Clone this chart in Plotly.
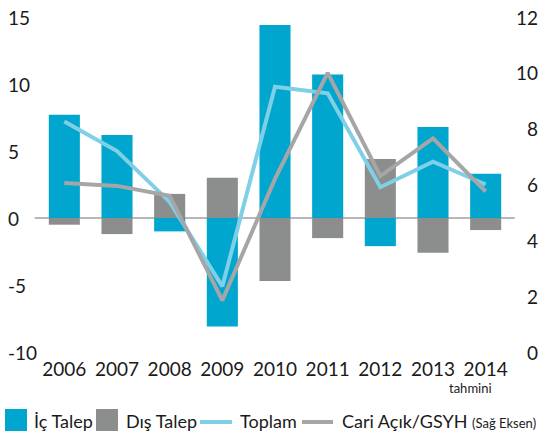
import plotly.graph_objects as go

years = ["2006", "2007", "2008", "2009", "2010", "2011", "2012", "2013", "2014"]
note_2014 = "tahmini"
ic_talep = [7.7, 6.2, -1.0, -8.1, 14.4, 10.7, -2.1, 6.8, 3.3]
dis_talep = [-0.5, -1.2, 1.8, 3.0, -4.7, -1.5, 4.4, -2.6, -0.9]
toplam = [7.2, 5.0, 1.2, -5.1, 9.8, 9.3, 2.3, 4.2, 2.5]
cari_acik = [6.05, 5.95, 5.6, 1.85, 6.2, 10.0, 6.3, 7.65, 5.75]

left_ticks = [-10, -5, 0, 5, 10, 15]
left_ticktext = ["-10", "-5", "0", "5", "10", "15"]
right_ticks = [0, 2, 4, 6, 8, 10, 12]
right_ticktext = ["0", "2", "4", "6", "8", "10", "12"]

series_names = ["İç Talep", "Dış Talep", "Toplam", "Cari Açık/GSYH"]
right_axis_note = "(Sağ Eksen)"
colors = ["#00A6CE", "#8C8E8D", "#7FD0E6", "#A6A6A8"]

FONT = "Lato, Open Sans, sans-serif"
TXT = "#1a1a1a"

fig = go.Figure()
fig.add_trace(go.Bar(x=years, y=ic_talep, name=series_names[0], marker_color=colors[0],
                     marker_line_width=0))
fig.add_trace(go.Bar(x=years, y=dis_talep, name=series_names[1], marker_color=colors[1],
                     marker_line_width=0))
fig.add_trace(go.Scatter(x=years, y=toplam, name=series_names[2], mode="lines",
                         line=dict(color=colors[2], width=4, shape="linear")))
fig.add_trace(go.Scatter(x=years, y=cari_acik, name=series_names[3],
                         mode="lines", yaxis="y2",
                         line=dict(color=colors[3], width=4)))

PLOT_L, PLOT_R, PLOT_T, PLOT_B = 38, 512, 17, 352

shapes = []
# zero line
shapes.append(dict(type="line", xref="paper", yref="y", x0=-0.007, x1=1.006, y0=0, y1=0,
                   line=dict(color="#A0A0A0", width=1.5), layer="below"))

annotations = []
for v, t in zip(left_ticks, left_ticktext):
    annotations.append(dict(xref="paper", yref="y", x=0, y=v, text=t, showarrow=False,
                            xanchor="left", yanchor="middle", xshift=-32,
                            font=dict(size=19, color=TXT)))
for v, t in zip(right_ticks, right_ticktext):
    annotations.append(dict(xref="paper", yref="y2", x=1, y=v, text=t, showarrow=False,
                            xanchor="right", yanchor="middle", xshift=28,
                            font=dict(size=19, color=TXT)))
annotations.append(dict(xref="x", yref="paper", x=len(years) - 1, y=-0.107, text=note_2014,
                        showarrow=False, xanchor="center", yanchor="middle", xshift=-15,
                        font=dict(size=13, color=TXT)))

# manual legend, pixel-sized relative to plot-area corner (paper 0,0)
def sq(x0, x1, y0, y1, color):
    return dict(type="rect", xref="paper", yref="paper", xsizemode="pixel", ysizemode="pixel",
                xanchor=0, yanchor=0, x0=x0 - PLOT_L, x1=x1 - PLOT_L,
                y0=PLOT_B - y1, y1=PLOT_B - y0, fillcolor=color,
                line=dict(width=0), layer="above")

def ln(x0, x1, y, color):
    return dict(type="line", xref="paper", yref="paper", xsizemode="pixel", ysizemode="pixel",
                xanchor=0, yanchor=0, x0=x0 - PLOT_L, x1=x1 - PLOT_L,
                y0=PLOT_B - y, y1=PLOT_B - y, line=dict(color=color, width=4), layer="above")

shapes.append(sq(5, 27, 409, 431, colors[0]))
shapes.append(sq(96, 118, 409, 431, colors[1]))
shapes.append(ln(200, 232, 422, colors[2]))
shapes.append(ln(302, 333, 422, colors[3]))

def px_x(p):
    return (p - PLOT_L) / float(PLOT_R - PLOT_L)

def px_y(p):
    return (PLOT_B - p) / float(PLOT_B - PLOT_T)

legend_text_x = [32, 124, 238, 340]
for i, (name, xp) in enumerate(zip(series_names, legend_text_x)):
    txt = name if i < 3 else name + " <span style='font-size:13px'>" + right_axis_note + "</span>"
    annotations.append(dict(xref="paper", yref="paper", x=px_x(xp), y=px_y(421),
                            text=txt, showarrow=False, xanchor="left", yanchor="middle",
                            font=dict(size=18, color=TXT)))

fig.update_layout(
    width=544, height=434,
    margin=dict(l=PLOT_L, r=544 - PLOT_R, t=PLOT_T, b=434 - PLOT_B),
    paper_bgcolor="white", plot_bgcolor="white",
    barmode="relative", bargap=0.41,
    font=dict(family=FONT, size=19, color=TXT),
    showlegend=False,
    xaxis=dict(type="category", range=[-0.5, 8.5], showgrid=False, zeroline=False,
               showline=False, ticks="", ticklabelstandoff=4,
               tickfont=dict(size=19, color=TXT)),
    yaxis=dict(range=[-10, 15], showgrid=False, zeroline=False, showline=False,
               showticklabels=False),
    yaxis2=dict(range=[0, 12], overlaying="y", side="right", showgrid=False,
                zeroline=False, showline=False, showticklabels=False),
    annotations=annotations,
    shapes=shapes,
)

fig.write_html("out.html", config={"displayModeBar": False},
               post_script="document.body.style.margin='0px';")
